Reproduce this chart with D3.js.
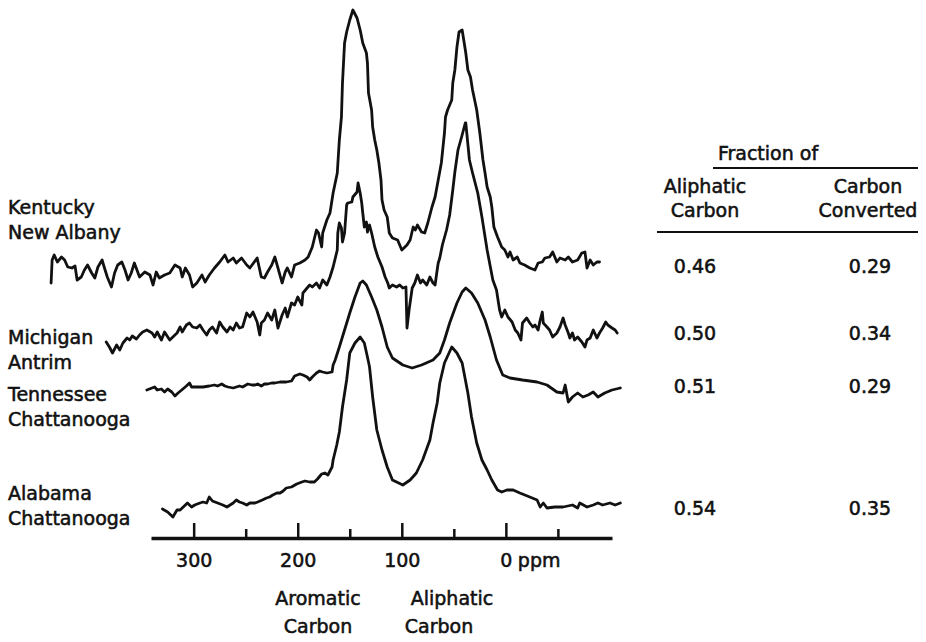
<!DOCTYPE html>
<html lang="en">
<head>
  <meta charset="UTF-8" />
  <title>13C NMR spectra of four shales</title>
  <script src="https://cdnjs.cloudflare.com/ajax/libs/d3/7.8.2/d3.min.js"></script>
  <style>
    body {
      margin: 0;
      padding: 0;
      background: #fff;
    }
    svg {
      display: block;
      background: #fff;
    }
    text {
      font-family: "DejaVu Sans", sans-serif;
      font-size: 19px;
      fill: #111;
      stroke: #111;
      stroke-width: 0.55px;
    }
    .spectrum {
      fill: none;
      stroke: #111;
      stroke-width: 2.8px;
      stroke-linejoin: round;
      stroke-linecap: round;
    }
  </style>
</head>
<body>

<svg id="chart"></svg>

<script>
// -----------------------------------------------------
// 1) DATA  (ppm, relative intensity - traces stacked)
// -----------------------------------------------------
const sampleNames = [
  ["Kentucky", "New Albany"],
  ["Michigan", "Antrim"],
  ["Tennessee", "Chattanooga"],
  ["Alabama", "Chattanooga"]
];
const aliphaticFraction = [0.46, 0.50, 0.51, 0.54];
const carbonConverted = [0.29, 0.34, 0.29, 0.35];

const tickValues = [300, 250, 200, 150, 100, 50, 0, -50];
const majorTicks = [300, 200, 100, 0];

const kentucky = [
  [437,128.5],[436,140],[434,142.5],[431,139],[427,141.5],[424,140],[421,136.5],[417,136],[414,137],[412,130],
  [408,131.5],[405,135],[402,137.5],[398,133.5],[395,131],[392,136.5],[388,140],[386,136.5],[383,131.5],[379,126.5],
  [376,133.5],[373,137.5],[369,139],[366,135],[363,130],[360,133.5],[357,138.5],
  [352,131.5],[347,134],[342,132.5],[339,127.5],[336,134],[333,131],[328,132.5],[323,133.5],[318,137.5],[313,136],
  [311,131.5],[308,136],[304,132.5],[301,126.5],[297,128.5],[292,132.5],[289,129],[285,132.5],[280,136],[275,139],
  [270,142.5],[267,139],[262,141],[259,138.5],[254,141],[249,137.5],[246,136],[239,141],[235,131.5],[232,131],
  [229,134],[225,137.5],[222,141.5],[219,136],[215,128.5],[212,134],[210,136],[206,131.5],[203,137.5],[198,138.5],[193,140],
  [190,141.5],[186,146.5],[182,155],[180,153.5],[177,146.5],[176,153.5],[172,160],[169,163.5],[166,173.5],[162,183.5],
  [160,200],[158,211.5],[157,228.5],[155,248.5],[153,254],[150,260],[147,265],[143,261],[140,255],[137.5,248.5],
  [134,243.5],[133,238.5],[132,223.5],[129,215],[128,206.5],[126,200],[124,195],[122,188.5],[120,180],[119,170],
  [117,165],[114,161.5],[112,153.5],[109,151],[104,150],[100,145],[95,147.5],[92,150],[89,156.5],[87,155],
  [85,157.5],[81,154],[78,153.5],[75,158.5],[71,166.5],[68,171.5],[65,180],[62,188.5],[59,203.5],[58,211.5],
  [56,215],[52,220],[51,228.5],[49,235],[47,246.5],[45,254],[42,255],[40,248.5],[38.5,243.5],[36.5,235],
  [34,231.5],[32,225],[28,215],[25,203.5],[22,190],[20,183.5],[18,176.5],[15,171.5],[13.5,166.5],[11.5,156.5],
  [8,151.5],[4,146.5],[1,145],
  [-2,141.5],[-4,144],[-7,140],[-11,141.5],[-13.5,138.5],[-18,137.5],[-23,136],[-28,135],[-31,138.5],[-35,139],
  [-37.5,141],[-42,141.5],[-45,144],[-49,139],[-52,141],[-57,140],[-60,141.5],[-64,139],[-69,140],[-73,143.5],
  [-76,144],[-78,136],[-81,140],[-84,137.5],[-87.5,139],[-90,139]
];

const michigan = [
  [384,99],[381,96.5],[378,93.5],[374,97.5],[371,95],[368,98.5],[364,101],[361.5,100],[359,102],[355,100.5],
  [352,102.5],[349,104],[345,105],[340,103.5],[337.5,101.5],[335,104],[331,100],[328,104],[323,100],[320,101.5],
  [316,103.5],[313,106.5],[311,104],[307,107.5],[304,108.5],[301,106.5],[297,106],[294,107.5],[291,105],[287.5,102.5],
  [285,105],[282,106.5],[278,103.5],[275,109],[272,106.5],[268,104],[265,106.5],[262,105],[259,108.5],[256,106],
  [253,106.5],[249,113.5],[246,111.5],[243,114],[239,109],[236.5,102.5],[235,108.5],[232,110],[229,113.5],[225,110],
  [222,115],[219,106],[215,112.5],[212,116],[210,111.5],[206,118.5],[203,117.5],[200,121.5],[196,117.5],[195,123.5],
  [191,126],[188.5,127.5],[186,126.5],[182,128.5],[179,126],[176,130],[172,127.5],[169,131.5],[166,136.5],[162,145],
  [161.5,153.5],[160,158.5],[158,156],[157,149],[155,153.5],[153,167.5],[152,168.5],[148,169],[147,171.5],[143,174],
  [142,178.5],[140,173.5],[138.5,168.5],[137.5,163.5],[136,156.5],[134,159],[133,154],[131,157.5],[129,153.5],[126,146.5],
  [123,141.5],[119,136.5],[116,131.5],[113.5,128.5],[112,126],[109,127.5],[105,126.5],[102,127.5],[99,126],[96,126.5],
  [95,106],[93,115],[90,126],[87.5,128.5],[85,132.5],[82,128.5],[80,130],[76,127.5],[73,131.5],[70,128.5],
  [68,127.5],[66,135],[65,138.5],[63.5,141],[61,147.5],[57,155],[54,162.5],[51,175],[49,184],[46,195],
  [42,202.5],[39,208.5],[38.5,208.5],[35,190],[32,183.5],[27,173.5],[23,161.5],[18,145],[12.5,130],[9,125],
  [6,115],[4,111.5],[1,115],[-2,111.5],[-6,109],[-9,105],[-11.5,103.5],[-14.5,100],[-16,108.5],[-20,111],
  [-23,108.5],[-26,106.5],[-28,107.5],[-31,105],[-33,110],[-35,114],[-36,108.5],[-39.5,106.5],[-42,105],[-45,101.5],
  [-49,103.5],[-52,106.5],[-55,111],[-57,107.5],[-60,103.5],[-61.5,101],[-64,103.5],[-66,100],[-69,101.5],[-73,99],
  [-76,96.5],[-78,100],[-81,101],[-84,105],[-87.5,101],[-90,103.5],[-93,106],[-96,109],[-98,107.5],[-102,106],
  [-105,105],[-107,103.5]
];

const tennessee = [
  [345,75],[340,76],[337.5,76.5],[335,75],[331,75.5],[328,74],[325,75.5],[321,74],[318,72],[315,73.5],
  [311.5,75],[307,77],[304,78.5],[302,76.5],[297,76.5],[291,76.5],[285,77],[280,77.5],[277,77],[273,78],
  [270,77],[267,76.5],[262,76],[259,76.5],[256,77],[253,76.5],[248,78],[244,77.5],[241,77.5],[238.5,78],
  [235,77],[232,78],[229,78],[225,78.5],[222,78.5],[217,79],[211,79],[206,79.5],[203,82],[198,83],
  [195,82.5],[191,81.5],[188.5,80],[186,81.5],[182,83.5],[179,84.5],[176,84],[172,83.5],[167,84],[166,87.5],
  [164,90],[160,96.5],[155,105],[150,113.5],[145,121.5],[140,128.5],[137.5,129.5],[134,127.5],[129,121.5],[124,115],
  [119,106.5],[114,96.5],[109,91],[99,87.5],[90,86],[81,87.5],[70,90],[63.5,93.5],[59,100],[54,108.5],
  [47,118.5],[42,124],[38.5,126],[33,123.5],[27,118.5],[20,110],[15,101.5],[9,90],[3,82.5],[-4,81],
  [-16,80],[-30,79],[-39.5,77.5],[-49,74],[-55,73.5],[-57,77.5],[-60,69],[-64,71.5],[-69,73.5],[-74,71.5],
  [-79,72.5],[-84,74],[-88.5,71.5],[-95,73.5],[-102,75],[-110,76]
];

const alabama = [
  [330,15.5],[325,14],[320,11.5],[316,15],[313,15],[311,16],[306,18.5],[302,16.5],[299,17.5],[294,18.5],
  [291,19],[287.5,18.5],[285,21.5],[282,19.5],[277,18.5],[272,17.5],[268,16.5],[265,17.5],[262,18.5],[259,20],
  [256,19],[253,18.5],[249,17.5],[246,18.5],[241,18.5],[238.5,19],[234,20],[230,21],[227,21.5],[224,22.5],
  [220,23.5],[217,23.5],[214,24.5],[211,26],[206,26.5],[201,28],[196,29],[193,29.5],[188.5,29],[184,29],
  [181,30.5],[177,33],[174,33.5],[171,32.5],[167,36.5],[166,40],[162.5,47.5],[160,54],[157,66.5],[153,80],
  [150,93.5],[145,98.5],[140,101.5],[136,98.5],[133,91.5],[131,86.5],[128,71.5],[124,55],[119,45],[114,36.5],
  [109,30],[99,27.5],[92,30],[86,33.5],[80,40],[73,50],[70,58.5],[66,68.5],[63.5,78.5],[59,88.5],
  [52,96.5],[47,93.5],[42,88.5],[36.5,73.5],[33,61.5],[28,48.5],[23,40],[18,35],[13.5,30],[8,25],
  [4,24],[-1,25],[-7,25],[-13.5,23.5],[-23,21.5],[-30,20],[-33,16.5],[-36,18.5],[-39.5,16],[-47,16.5],
  [-55,16.5],[-64,17.5],[-69,16],[-71,18.5],[-78,16.5],[-84,17.5],[-88.5,18.5],[-93,17.5],[-100,18.5],[-105,17.5],
  [-110,18.5]
];

const spectra = [kentucky, michigan, tennessee, alabama];

// -----------------------------------------------------
// 2) LAYOUT & SCALES
// -----------------------------------------------------
const width = 926;
const height = 642;
const axisY = 538;

const svg = d3.select("#chart")
  .attr("width", width)
  .attr("height", height);

const x = d3.scaleLinear().domain([341, -102]).range([151, 612]);
const y = d3.scaleLinear().domain([0, 270]).range([540, 0]);

const line = d3.line()
  .x(d => x(d[0]))
  .y(d => y(d[1]));

// -----------------------------------------------------
// 3) SPECTRA
// -----------------------------------------------------
svg.append("g")
  .selectAll("path")
  .data(spectra)
  .join("path")
  .attr("class", "spectrum")
  .attr("d", line);

// -----------------------------------------------------
// 4) PPM AXIS
// -----------------------------------------------------
const axisG = svg.append("g")
  .attr("transform", `translate(0,${axisY})`)
  .call(d3.axisBottom(x)
    .tickValues(tickValues)
    .tickSizeOuter(0)
    .tickSizeInner(-15)
    .tickPadding(16)
    .tickFormat(d => majorTicks.includes(d) ? d3.format("d")(d) : ""));

axisG.attr("font-family", null).attr("font-size", null);
axisG.select(".domain").attr("stroke", "#111").attr("stroke-width", 3.5);
axisG.selectAll(".tick line")
  .attr("stroke", "#111")
  .attr("stroke-width", 2.5)
  .attr("y2", d => majorTicks.includes(d) ? -15 : -9);
axisG.selectAll(".tick text").attr("fill", "#111");

axisG.append("text")
  .attr("x", x(0) + 12)
  .attr("y", 16)
  .attr("dy", "0.71em")
  .attr("text-anchor", "start")
  .text("ppm");

// region labels under the axis
const regionLabels = [
  { cx: 318, lines: ["Aromatic", "Carbon"], dx: [0, 0] },
  { cx: 452, lines: ["Aliphatic", "Carbon"], dx: [0, -13] }
];
regionLabels.forEach(r => {
  r.lines.forEach((t, i) => {
    svg.append("text")
      .attr("x", r.cx + r.dx[i])
      .attr("y", 605 + i * 28)
      .attr("text-anchor", "middle")
      .text(t);
  });
});

// -----------------------------------------------------
// 5) SAMPLE NAMES (left)
// -----------------------------------------------------
const nameY = [214, 344, 401, 500];
sampleNames.forEach((n, i) => {
  n.forEach((t, j) => {
    svg.append("text")
      .attr("x", 8)
      .attr("y", nameY[i] + j * 25)
      .text(t);
  });
});

// -----------------------------------------------------
// 6) TABLE (right)
// -----------------------------------------------------
const colA = 705;
const colB = 868;
const rowY = [273, 340, 393, 515];
const fmt = d3.format(".2f");

svg.append("text").attr("x", 768).attr("y", 160).attr("text-anchor", "middle").text("Fraction of");
svg.append("line").attr("x1", 713).attr("x2", 918).attr("y1", 168).attr("y2", 168)
  .attr("stroke", "#111").attr("stroke-width", 1.8);

[["Aliphatic", "Carbon"], ["Carbon", "Converted"]].forEach((h, i) => {
  h.forEach((t, j) => {
    svg.append("text")
      .attr("x", i === 0 ? colA : colB)
      .attr("y", 193 + j * 24)
      .attr("text-anchor", "middle")
      .text(t);
  });
});
svg.append("line").attr("x1", 657).attr("x2", 918).attr("y1", 232).attr("y2", 232)
  .attr("stroke", "#111").attr("stroke-width", 1.8);

svg.append("g")
  .selectAll("text")
  .data(aliphaticFraction)
  .join("text")
  .attr("x", colA - 10)
  .attr("y", (d, i) => rowY[i])
  .attr("text-anchor", "middle")
  .text(d => fmt(d));

svg.append("g")
  .selectAll("text")
  .data(carbonConverted)
  .join("text")
  .attr("x", colB + 2)
  .attr("y", (d, i) => rowY[i])
  .attr("text-anchor", "middle")
  .text(d => fmt(d));
</script>
</body>
</html>
